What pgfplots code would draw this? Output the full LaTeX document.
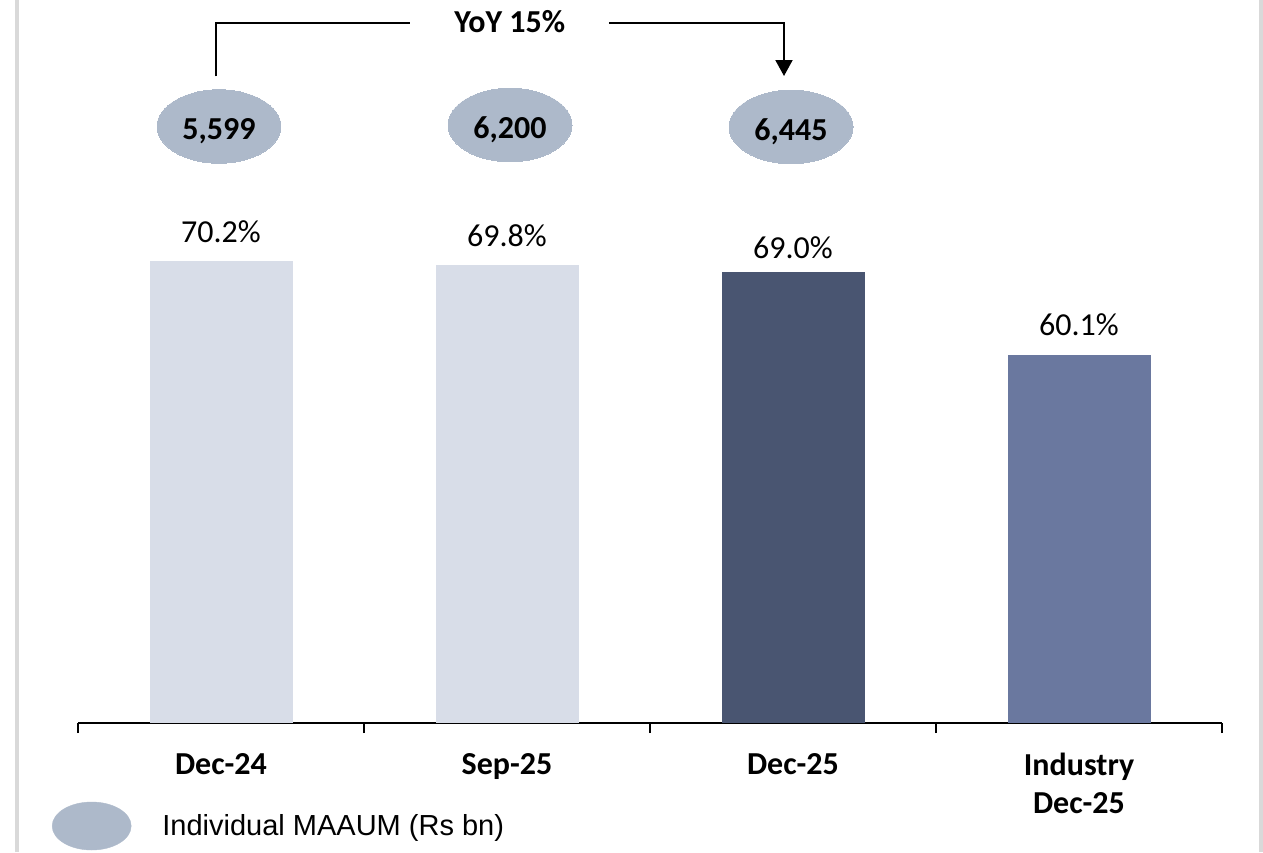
\documentclass[border=0pt]{standalone}
\usepackage{fontspec}
\setmainfont{Carlito}
\newfontfamily\arialfont{Liberation Sans}
\usepackage{pgfplots}
\pgfplotsset{compat=1.18}
\usetikzlibrary{arrows.meta}
\definecolor{lightbar}{HTML}{D8DDE8}
\definecolor{darkbar}{HTML}{495571}
\definecolor{indbar}{HTML}{6A789F}
\definecolor{bubble}{HTML}{ADB9CA}
\definecolor{border}{HTML}{D9D9D9}
\pgfplotsset{
  pctbar/.style={ybar, bar width=143pt, bar shift=0pt, draw=none, forget plot,
    point meta=y,
    nodes near coords={\pgfmathprintnumber[fixed,fixed zerofill,precision=1,assume math mode=true]{\pgfplotspointmeta}\%},
    every node near coord/.append style={anchor=south, inner sep=0pt, font=\fontsize{32}{38}\selectfont, text=black}},
}
\begin{document}
\begin{tikzpicture}
\begin{axis}[name=ax, scale only axis, width=1144pt, height=723pt,
  xmin=-0.5, xmax=3.5, ymin=20.4, ymax=98.3,
  clip mode=individual,
  axis x line*=bottom, hide y axis,
  x axis line style={line width=2pt, black, -},
  xtick={0,1,2,3},
  xticklabels={Dec-24,Sep-25,Dec-25,{Industry\\Dec-25}},
  major tick length=0pt,
  minor xtick={-0.5,0.5,1.5,2.5,3.5},
  minor tick length=10pt, tick align=outside,
  every tick/.style={black, line width=1.5pt},
  xticklabel style={font=\bfseries\fontsize{32}{38}\selectfont, align=center, anchor=north, inner sep=0pt, yshift=-30pt},
  legend style={at={(axis description cs:-0.02273,-0.14246)}, anchor=west, draw=none, fill=none,
    inner sep=0pt, outer sep=0pt, font=\arialfont\fontsize{29}{34}\selectfont,
    column sep=31pt, nodes={inner sep=0pt}},
]
\addplot[pctbar, fill=lightbar, every node near coord/.append style={yshift=18pt}] coordinates {(0,70.2)};
\addplot[pctbar, fill=lightbar, every node near coord/.append style={yshift=18pt}] coordinates {(1,69.8)};
\addplot[pctbar, fill=darkbar, every node near coord/.append style={yshift=13pt}] coordinates {(2,69.0)};
\addplot[pctbar, fill=indbar, every node near coord/.append style={yshift=19pt}] coordinates {(3,60.1)};

\addplot[color=bubble, only marks, mark=*, mark size=36.75pt,
  mark options={xscale=1.687, fill=bubble, draw=bubble, line width=0pt},
  point meta=explicit,
  nodes near coords={\pgfmathprintnumber[fixed,precision=0,1000 sep={,},assume math mode=true]{\pgfplotspointmeta}},
  every node near coord/.append style={anchor=center, inner sep=0pt, text depth=0pt, yshift=-3pt, font=\bfseries\fontsize{32}{38}\selectfont, text=black},
  legend image code/.code={\fill[bubble] (39.5pt,0pt) ellipse [x radius=39.5pt, y radius=24pt];}
] coordinates {(-0.007,84.67) [5599] (1.0105,84.83) [6200] (1.993,84.62) [6445]};
\addlegendentry{Individual MAAUM (Rs bn)}

\draw[line width=2pt] (axis cs:-0.0175,90.06) |- (axis cs:0.6608,95.77);
\draw[line width=2pt, -{Triangle[width=17pt,length=16pt]}] (axis cs:1.3566,95.77) -| (axis cs:1.9685,90.11);
\node[font=\bfseries\fontsize{32}{38}\selectfont, inner sep=0pt] at (axis cs:1.0094,96.0) {YoY 15\%};
\draw[border, line width=4pt] (axis cs:-0.7133,6.5) -- (axis cs:-0.7133,98.3);
\draw[border, line width=4pt] (axis cs:3.6364,6.5) -- (axis cs:3.6364,98.3);
\end{axis}
\pgfresetboundingbox
\path[use as bounding box] ([xshift=-78pt,yshift=-129pt]ax.south west) rectangle ([xshift=41pt]ax.north east);
\end{tikzpicture}
\end{document}
